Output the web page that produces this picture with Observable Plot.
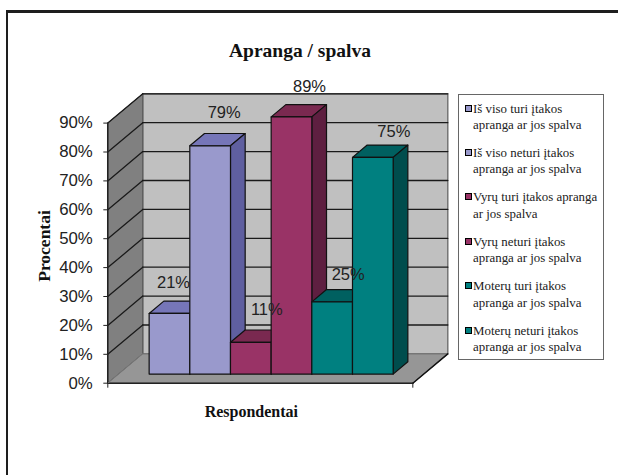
<!DOCTYPE html>
<html>
<head>
<meta charset="utf-8">
<script src="https://cdn.jsdelivr.net/npm/d3@7"></script>
<script src="https://cdn.jsdelivr.net/npm/@observablehq/plot@0.6"></script>
<style>
  html, body { margin: 0; padding: 0; background: #fff; overflow: hidden; }
  #page { position: relative; width: 618px; height: 475px; overflow: hidden; }
  #frame { position: absolute; left: 6px; top: 10px; right: -10px; bottom: -10px;
           border-left: 2px solid #1e1e1e; border-top: 3px solid #1e1e1e; }
  #page svg { position: absolute; left: 0; top: 0; }
  #title { position: absolute; left: 0; top: 40px; width: 600px; text-align: center;
           font: bold 19.5px "Liberation Serif", serif; color: #111; line-height: 22px; }
  #legend { position: absolute; left: 458px; top: 94px; width: 146px; height: 266px; box-sizing: border-box;
            border: 1px solid #666; background: #fff; font: 12.9px/16.5px "Liberation Serif", serif; color: #222; }
  .row { position: absolute; left: 14px; white-space: pre-line; }
  .swatch { position: absolute; left: -8px; top: 4px; width: 5px; height: 5px; border: 1px solid #000; }
</style>
</head>
<body>
<div id="page">
  <div id="frame"></div>
  <div id="chart"></div>
  <div id="title"></div>
  <div id="legend"></div>
</div>
<script>
const chartTitle = "Apranga / spalva";
const yLabel = "Procentai";
const xLabel = "Respondentai";
const seriesNames = [
  "Iš viso turi įtakos\napranga ar jos spalva",
  "Iš viso neturi įtakos\napranga ar jos spalva",
  "Vyrų turi įtakos apranga\nar jos spalva",
  "Vyrų neturi įtakos\napranga ar jos spalva",
  "Moterų turi įtakos\napranga ar jos spalva",
  "Moterų neturi įtakos\napranga ar jos spalva"
];
const values = [21, 79, 11, 89, 25, 75];
const yTicks = [0, 10, 20, 30, 40, 50, 60, 70, 80, 90];
const frontColors = ["#9999cc", "#9999cc", "#993366", "#993366", "#008080", "#008080"];
const topColors   = ["#7676b8", "#7676b8", "#7a2950", "#7a2950", "#006060", "#006060"];
const sideColors  = ["#5f5fa0", "#5f5fa0", "#5e1f40", "#5e1f40", "#004d4d", "#004d4d"];

// oblique projection of the 3-D chart box into the plot's x / y data space
const slots = 7.5, gap = 0.75, yMax = 90;
const skewX = 0.86, skewY = 10.14;
const barZ0 = 0.31, barZ1 = 0.73;
const P = (x, y, z) => ({x: x + z * skewX, y: y + z * skewY});

const face = (pts, fill, stroke = "#111", strokeWidth = 1.2) =>
  Plot.line(pts, {x: "x", y: "y", fill, stroke, strokeWidth, curve: "linear-closed", strokeLinejoin: "round"});
const seg = (pts, stroke = "#1a1a1a", strokeWidth = 1.3) =>
  Plot.line(pts, {x: "x", y: "y", stroke, strokeWidth});

const walls = [
  face([P(0, 0, 1), P(slots, 0, 1), P(slots, yMax, 1), P(0, yMax, 1)], "#c0c0c0", "#6e6e6e", 1.4),
  face([P(0, 0, 0), P(0, 0, 1), P(0, yMax, 1), P(0, yMax, 0)], "#808080", "#555", 1),
  face([P(0, 0, 0), P(slots, 0, 0), P(slots, 0, 1), P(0, 0, 1)], "#969696", "#6e6e6e", 1)
];
const grid = yTicks.slice(1).flatMap(v => [
  seg([P(0, v, 1), P(slots, v, 1)]),
  seg([P(0, v, 0), P(0, v, 1)])
]);
const edges = [
  seg([P(0, 0, 0), P(0, yMax, 0)], "#222", 1.6),
  seg([P(0, 0, 0), P(slots, 0, 0)], "#222", 1.6),
  seg([P(slots, 0, 0), P(slots, 0, 1)], "#111", 1.5),
  seg([P(0, 0, 0), P(0, 0, 1)], "#777", 1)
];
const bars = values.flatMap((v, i) => {
  const a = gap + i, b = a + 1;
  return [
    face([P(a, v, barZ0), P(b, v, barZ0), P(b, v, barZ1), P(a, v, barZ1)], topColors[i]),
    face([P(b, 0, barZ0), P(b, 0, barZ1), P(b, v, barZ1), P(b, v, barZ0)], sideColors[i]),
    face([P(a, 0, barZ0), P(b, 0, barZ0), P(b, v, barZ0), P(a, v, barZ0)], frontColors[i])
  ];
});
const labelNudgeX = [-11, -1, 1, 3, 1, 6];
const labelNudgeY = [-1, -3, -3, 0, 3, 4];
const labels = values.map((v, i) => {
  const p = P(gap + i + 0.5, v, barZ0);
  return Plot.text([p], {
    x: "x", y: "y", text: () => v + "%",
    dx: 15 + labelNudgeX[i], dy: -30 + labelNudgeY[i],
    fontFamily: "Liberation Sans", fontSize: 16.5, fill: "#222"
  });
});

const chart = Plot.plot({
  width: 618, height: 475,
  marginLeft: 107.3, marginRight: 170.7, marginTop: 93.3, marginBottom: 92.3,
  style: {background: "transparent"},
  x: {domain: [0, 340 / 40.67], axis: null},
  y: {domain: [0, yMax + skewY], axis: null},
  marks: [
    ...walls,
    ...grid,
    ...edges,
    ...bars,
    ...labels,
    Plot.axisY({ticks: yTicks, tickFormat: d => d + "%", tickSize: 4, tickPadding: 11, label: null,
                fontFamily: "Liberation Sans", fontSize: 16.8, fill: "#222", stroke: "#222"}),
    Plot.axisX({ticks: [0, slots], tickSize: 5, tickFormat: () => "", label: null, stroke: "#222"}),
    Plot.text([yLabel], {text: d => d, frameAnchor: "left", textAnchor: "middle", rotate: -90, dx: -63, dy: 7.5,
                         fontFamily: "Liberation Serif", fontWeight: "bold", fontSize: 17.5, fill: "#111"}),
    Plot.text([xLabel], {text: d => d, frameAnchor: "bottom", dx: -26.5, dy: 34,
                         fontFamily: "Liberation Serif", fontWeight: "bold", fontSize: 16, fill: "#111"})
  ]
});
document.getElementById("chart").append(chart);
document.getElementById("title").textContent = chartTitle;

const legend = document.getElementById("legend");
seriesNames.forEach((name, i) => {
  const row = document.createElement("div");
  row.className = "row";
  row.style.top = (5.5 + i * 44.4) + "px";
  row.textContent = name;
  const sw = document.createElement("div");
  sw.className = "swatch";
  sw.style.background = frontColors[i];
  row.append(sw);
  legend.append(row);
});
</script>
</body>
</html>
